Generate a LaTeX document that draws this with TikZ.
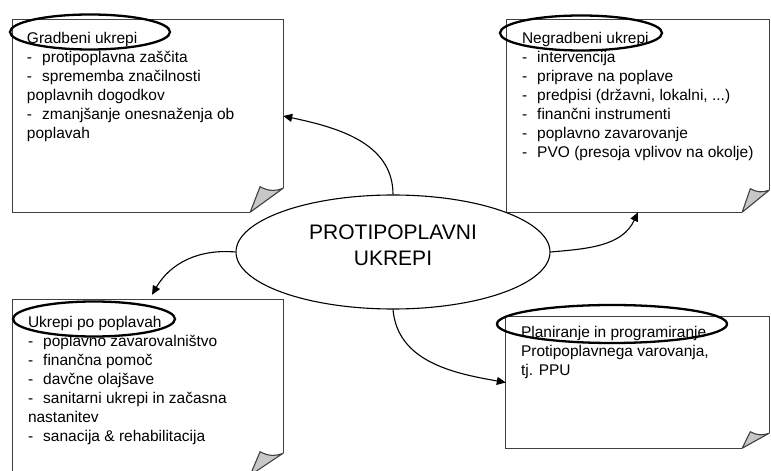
\documentclass[tikz,border=0pt]{standalone}
\usepackage{fontspec}
\setmainfont{Liberation Sans}
\usetikzlibrary{arrows.meta,calc,positioning,shapes.geometric}

\newcommand{\crta}{-\hspace{0.65em}}

\begin{document}
\begin{tikzpicture}[x=1pt,y=1pt,
		boxline/.style={draw=black!75,line width=1.3pt},
		flap/.style={draw=black!75,fill=black!22,line width=1.1pt,line join=round},
		note/.style={rectangle,inner sep=0pt},
		notetext/.style={inner sep=0pt,align=left,font=\fontsize{15.5}{19}\selectfont},
		hdr/.style={ellipse,draw,line width=2.3pt,inner sep=0pt},
		conn/.style={line width=1.1pt,-{Triangle[length=9pt,width=8pt]}}]
		\clip (0,0) rectangle (771,471);
		\fill[white] (0,0) rectangle (771,471);
		
		% the four notes (outline drawn below)
		\node[note,minimum width=270,minimum height=192] (gb) at (148,355) {};
		\node[note,minimum width=262,minimum height=192] (ngb) at (638,355) {};
		\node[note,minimum width=270,minimum height=175] (pp) at (148,83.5) {};
		\node[note,minimum width=263,minimum height=131] (ppu) at (637.5,88.5) {};
		
		% outlines with a folded corner
		\foreach \b/\fx/\fy in {gb/33/24, ngb/27/22, pp/33/22, ppu/27/15}{
			\draw[boxline] ($(\b.south east)+(-\fx,0)$) -- (\b.south west) -- (\b.north west)
			-- (\b.north east) -- ($(\b.south east)+(0,\fy)$);
			\filldraw[flap] ($(\b.south east)+(-\fx,0)$) -- ($(\b.south east)+(-0.7*\fx,\fy+1.5)$)
			to[bend right=25] ($(\b.south east)+(0,\fy)$) -- cycle;
		}
		
		% texts of the notes
		\node[notetext,below right=12pt and 14pt of gb.north west] (gbt) {Gradbeni ukrepi\\
			\crta protipoplavna zaščita\\
			\crta sprememba značilnosti\\
			poplavnih dogodkov\\
			\crta zmanjšanje onesnaženja ob\\
			poplavah};
		\node[notetext,below right=12pt and 15pt of ngb.north west] (ngbt) {Negradbeni ukrepi\\
			\crta intervencija\\
			\crta priprave na poplave\\
			\crta predpisi (državni, lokalni, ...)\\
			\crta finančni instrumenti\\
			\crta poplavno zavarovanje\\
			\crta PVO (presoja vplivov na okolje)};
		\node[notetext,below right=16pt and 15pt of pp.north west] (ppt) {Ukrepi po poplavah\\
			\crta poplavno zavarovalništvo\\
			\crta finančna pomoč\\
			\crta davčne olajšave\\
			\crta sanitarni ukrepi in začasna\\
			nastanitev\\
			\crta sanacija \& rehabilitacija};
		\node[notetext,below right=9pt and 15pt of ppu.north west] (ppur) {Planiranje in programiranje\\
			Protipoplavnega varovanja,\\
			tj. PPU};
		
		% circled headings
		\node[hdr,minimum width=160,minimum height=35] (gbh) at (90,439) {};
		\node[hdr,minimum width=162,minimum height=35] (ngbh) at (581,438) {};
		\node[hdr,minimum width=162,minimum height=35] (pph) at (94,152) {};
		\node[hdr,minimum width=230,minimum height=38] (ppuh) at (612,147) {};
		
		% central ellipse
		\node[ellipse,draw,line width=1.1pt,minimum width=314,minimum height=114] (main) at (393,219) {};
		\node[align=center,inner sep=0pt,font=\fontsize{21}{26}\selectfont] (mainlbl)
		at ([yshift=7pt]main.center) {PROTIPOPLAVNI\\UKREPI};
		
		% connectors
		\draw[conn] (main.north) to[out=90,in=-12] (gb.east);
		\draw[conn] (main.east) to[out=5,in=-115] (ngb.south);
		\draw[conn] (main.west) to[out=175,in=60] ([xshift=4pt,yshift=5pt]pp.north);
		\draw[conn] (main.south) to[out=-85,in=170] (ppu.west);
	\end{tikzpicture}
\end{document}
